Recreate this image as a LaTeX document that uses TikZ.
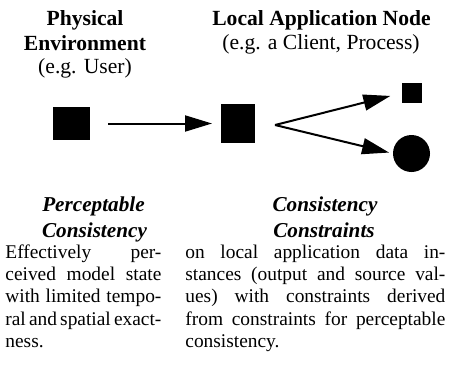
\documentclass[tikz,border=0pt]{standalone}
\usepackage{fontspec}
\setmainfont{Liberation Serif}
\usetikzlibrary{arrows.meta}
% one justified line of a column: #1 = column width, #2 = words
\newcommand{\fillline}[2]{\leavevmode\hbox to #1{\spaceskip=0.25em plus 1fil minus 0.1em\relax #2}}
\begin{document}
\begin{tikzpicture}[x=0.5pt,y=-0.5pt,
  blk/.style={fill=black,draw=none,inner sep=0pt,outer sep=0pt},
  head/.style={font=\fontsize{10.8}{12.5}\selectfont\bfseries,anchor=base,inner sep=0pt},
  sub/.style={font=\fontsize{10.8}{12.5}\selectfont,anchor=base,inner sep=0pt},
  title/.style={font=\fontsize{10.6}{12.5}\selectfont\bfseries\itshape,anchor=base,inner sep=0pt},
  body/.style={font=\fontsize{9.7}{11.2}\selectfont,align=left,anchor=base west,inner sep=0pt},
  flow/.style={line width=1pt,-{Triangle[length=13.5pt,width=8pt]}}]
\useasboundingbox (0,0) rectangle (456,365);

% column headings
\node[head] (envA) at (85,25) {Physical};
\node[head] (envB) at (85,50) {Environment};
\node[sub]  (envC) at (85,73) {(e.g. User)};
\node[head] (appA) at (321.5,25) {Local Application Node};
\node[sub]  (appB) at (321,49) {(e.g. a Client, Process)};

% entities
\node[blk,minimum width=18.5pt,minimum height=16.5pt] (user) at (71.5,123.5) {};
\node[blk,minimum width=17pt,minimum height=19.5pt] (app) at (238,123.5) {};
\node[blk,minimum width=10pt,minimum height=10pt] (out) at (412,93) {};
\node[blk,circle,minimum size=18.5pt] (src) at (411.5,153.5) {};
\coordinate (fork) at (275,125);

% data flow
\draw[flow,shorten <=9pt,shorten >=4.5pt] (user) -- (app);
\draw[flow,shorten >=6pt] (fork) -- (out.west);
\draw[flow,shorten >=2pt] (fork) -- (src.west);

% consistency kinds
\node[title] (pcA) at (93.5,211) {Perceptable};
\node[title] (pcB) at (94.5,237) {Consistency};
\node[title] (ccA) at (325,211) {Consistency};
\node[title] (ccB) at (324,237) {Constraints};

% descriptions
\node[body,text width=78pt] (pcText) at (5,258) {%
  \fillline{78pt}{Effectively per-}\\
  \fillline{78pt}{ceived model state}\\
  \fillline{78pt}{with limited tempo-}\\
  \fillline{78pt}{ral and spatial exact-}\\
  ness.};
\node[body,text width=130pt] (ccText) at (185,258) {%
  \fillline{130pt}{on local application data in-}\\
  \fillline{130pt}{stances (output and source val-}\\
  \fillline{130pt}{ues) with constraints derived}\\
  \fillline{130pt}{from constraints for perceptable}\\
  consistency.};
\end{tikzpicture}
\end{document}
